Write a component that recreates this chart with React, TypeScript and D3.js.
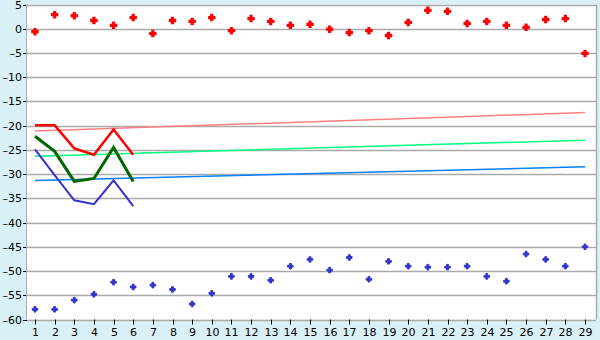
import React from "react";
import * as d3 from "d3";

const categories: number[] = d3.range(1, 30);
const yTicks: number[] = [5, 0, -5, -10, -15, -20, -25, -30, -35, -40, -45, -50, -55, -60];

const topPoints: number[] = [
  -0.6, 2.9, 2.7, 1.7, 0.7, 2.3, -1.0, 1.7, 1.5, 2.3,
  -0.4, 2.1, 1.5, 0.7, 0.9, -0.1, -0.8, -0.4, -1.4, 1.3,
  3.8, 3.6, 1.1, 1.5, 0.7, 0.3, 1.9, 2.1, -5.1,
];
const bottomPoints: number[] = [
  -57.9, -57.9, -56.0, -54.8, -52.3, -53.3, -52.9, -53.8, -56.8, -54.6,
  -51.1, -51.1, -51.9, -49.0, -47.6, -49.8, -47.2, -51.7, -48.0, -49.0,
  -49.2, -49.2, -49.0, -51.1, -52.1, -46.5, -47.6, -49.0, -45.0,
];
const redLine: number[] = [-19.9, -19.9, -24.7, -26.0, -20.8, -26.0];
const greenLine: number[] = [-22.2, -25.3, -31.5, -30.9, -24.5, -31.5];
const blueLine: number[] = [-24.9, -30.2, -35.4, -36.2, -31.3, -36.6];
// trend lines: value at category 1 and at category 29
const redTrend: number[] = [-21.1, -17.3];
const greenTrend: number[] = [-26.3, -23.0];
const blueTrend: number[] = [-31.3, -28.5];

const W = 600;
const H = 340;
const plot = { left: 27, right: 596, top: 4.5, bottom: 319.5 };

export default function App() {
  const x = d3.scalePoint<number>().domain(categories).range([35, 585]);
  const y = d3.scaleLinear().domain([-60, 5]).range([plot.bottom, plot.top]);

  const line = d3
    .line<number>()
    .x((_, i) => x(categories[i]) as number)
    .y((d) => y(d));

  const trend = (vals: number[]) => ({
    x1: x(categories[0]) as number,
    x2: x(categories[categories.length - 1]) as number,
    y1: y(vals[0]),
    y2: y(vals[1]),
  });

  const redSym = d3.symbol().type(d3.symbolCross).size(22)() as string;
  const blueSym = d3.symbol().type(d3.symbolCross).size(17)() as string;

  const font = "'DejaVu Sans', Verdana, sans-serif";

  return (
    <svg
      width={W}
      height={H}
      style={{ position: "fixed", left: 0, top: 0 }}
      fontFamily={font}
    >
      <rect x={0} y={0} width={W} height={H} fill="#d9f0f7" />
      <rect
        x={plot.left}
        y={plot.top}
        width={plot.right - plot.left}
        height={plot.bottom - plot.top}
        fill="#ffffff"
      />
      {yTicks.map((t) => (
        <g key={t}>
          <line
            x1={plot.left}
            x2={plot.right}
            y1={Math.round(y(t)) + 0.5}
            y2={Math.round(y(t)) + 0.5}
            stroke="#aaaaaa"
            strokeWidth={1.5}
          />
          <line
            x1={plot.left - 4}
            x2={plot.left}
            y1={Math.round(y(t)) + 0.5}
            y2={Math.round(y(t)) + 0.5}
            stroke="#000"
            strokeWidth={1}
          />
          <text
            x={plot.left - 5}
            y={y(t) + 4}
            textAnchor="end"
            fontSize={11}
            fill="#000"
          >
            {t < 0 ? "\u2013" + Math.abs(t) : String(t)}
          </text>
        </g>
      ))}
      <line
        x1={plot.left - 0.5}
        x2={plot.left - 0.5}
        y1={plot.top}
        y2={plot.bottom}
        stroke="#aaaaaa"
        strokeWidth={1}
      />
      <line
        x1={plot.right + 0.5}
        x2={plot.right + 0.5}
        y1={plot.top}
        y2={plot.bottom}
        stroke="#aaaaaa"
        strokeWidth={1.5}
      />
      {categories.map((c) => {
        const cx = Math.round(x(c) as number) + 0.5;
        return (
          <g key={c}>
            <line x1={cx} x2={cx} y1={plot.bottom} y2={plot.bottom + 5} stroke="#000" />
            <text x={cx} y={336} textAnchor="middle" fontSize={11} fill="#000">
              {c}
            </text>
          </g>
        );
      })}
      <line {...trend(redTrend)} stroke="#ff8080" strokeWidth={1.5} />
      <line {...trend(greenTrend)} stroke="#00ff80" strokeWidth={1.5} />
      <line {...trend(blueTrend)} stroke="#0080ff" strokeWidth={1.5} />
      <path d={line(blueLine) as string} fill="none" stroke="#3333cc" strokeWidth={2} />
      <path d={line(greenLine) as string} fill="none" stroke="#006600" strokeWidth={3} />
      <path d={line(redLine) as string} fill="none" stroke="#ff0000" strokeWidth={2.5} />
      {topPoints.map((v, i) => (
        <path
          key={"t" + i}
          d={redSym}
          transform={`translate(${x(categories[i])},${y(v)})`}
          fill="#ff0000"
          stroke="#ff0000"
          strokeWidth={1.2}
          strokeLinejoin="round"
        />
      ))}
      {bottomPoints.map((v, i) => (
        <path
          key={"b" + i}
          d={blueSym}
          transform={`translate(${x(categories[i])},${y(v)})`}
          fill="#3333cc"
          stroke="#3333cc"
          strokeWidth={1}
          strokeLinejoin="round"
        />
      ))}
    </svg>
  );
}
